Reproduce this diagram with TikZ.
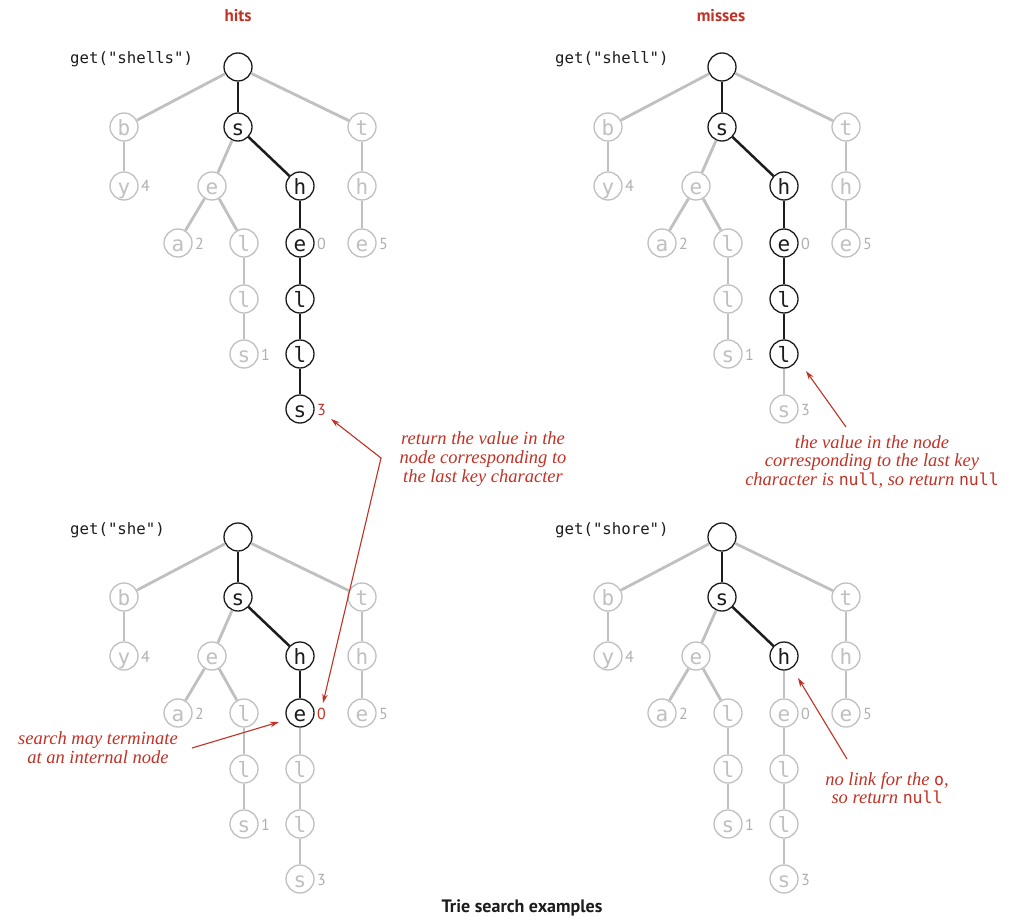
\documentclass[tikz,border=0pt]{standalone}
\usepackage{fontspec}
\setsansfont{PT Sans}
\newfontfamily\monof{DejaVu Sans Mono}
\newfontfamily\annof{Liberation Serif}
\usetikzlibrary{arrows.meta}
\definecolor{tred}{RGB}{192,50,38}
\definecolor{lgray}{RGB}{192,192,192}
\definecolor{tgray}{RGB}{175,175,175}
\definecolor{dk}{RGB}{28,28,28}
\tikzset{
  tn/.style={circle,minimum size=28pt,inner sep=0pt,line width=1.3pt,fill=white,
    font=\monof\fontsize{21}{21}\selectfont,text height=16.5pt,text depth=0pt},
  blk/.style={tn,draw=dk,text=dk},
  gry/.style={tn,draw=lgray,text=lgray},
  eB/.style={draw=dk,line width=2.5pt},
  eG/.style={draw=lgray,line width=2.8pt},
  val/.style={anchor=base west,inner sep=0pt,font=\sffamily\fontsize{16}{16}\selectfont,text=tgray},
  rval/.style={val,text=tred},
  getlbl/.style={anchor=base west,inner sep=0pt,font=\monof\fontsize{15.7}{16}\selectfont,text=dk},
  ttl/.style={anchor=base,inner sep=0pt,font=\sffamily\bfseries\fontsize{17}{17}\selectfont,text=tred},
  anno/.style={align=center,inner sep=0pt,text=tred,font=\annof\itshape\fontsize{18.5}{18.8}\selectfont},
  rarrow/.style={draw=tred,line width=1.1pt,-{Stealth[length=9pt,width=5.5pt]}},
}
\newcommand\nl{{\monof\upshape\fontsize{16.5}{16}\selectfont null}}
\newcommand\trie[3]{%
\begin{scope}[shift={(#2,#3)}]
\node[blk] (#1r) at (238,67) {};
\node[gry] (#1b) at (124,127) {b};
\node[pS] (#1s) at (238,127) {s};
\node[gry] (#1t) at (362,127) {t};
\node[gry] (#1y) at (124,186) {y};
\node[gry] (#1se) at (212,186) {e};
\node[pH] (#1h) at (300,186) {h};
\node[gry] (#1th) at (362,186) {h};
\node[gry] (#1a) at (178,243) {a};
\node[gry] (#1sl) at (244,243) {l};
\node[pE] (#1e) at (300,243) {e};
\node[gry] (#1te) at (362,243) {e};
\node[gry] (#1sll) at (244,299) {l};
\node[pL] (#1l) at (300,299) {l};
\node[gry] (#1sls) at (244,354) {s};
\node[pLL] (#1ll) at (300,354) {l};
\node[pSS] (#1ss) at (300,409) {s};
\node[val] (#1v4) at (141,192) {4};
\node[val] (#1v2) at (195,249) {2};
\node[val] (#1v1) at (261,360) {1};
\node[vE] (#1v0) at (317,249) {0};
\node[val] (#1v5) at (379,249) {5};
\node[vS] (#1v3) at (317,415) {3};
\draw[eB] (#1r) -- (#1s);
\draw[eG] (#1r) -- (#1b);
\draw[eG] (#1r) -- (#1t);
\draw[eG] (#1b) -- (#1y);
\draw[eG] (#1t) -- (#1th);
\draw[eG] (#1th) -- (#1te);
\draw[eG] (#1s) -- (#1se);
\draw[eG] (#1se) -- (#1a);
\draw[eG] (#1se) -- (#1sl);
\draw[eG] (#1sl) -- (#1sll);
\draw[eG] (#1sll) -- (#1sls);
\draw[eB] (#1s) -- (#1h);
\draw[qE] (#1h) -- (#1e);
\draw[qL] (#1e) -- (#1l);
\draw[qLL] (#1l) -- (#1ll);
\draw[qSS] (#1ll) -- (#1ss);
\end{scope}}
\begin{document}
\begin{tikzpicture}[x=1pt,y=-1pt]
\useasboundingbox[fill=white] (0,0) rectangle (1016,917);
% titles
\node[ttl] (thits) at (238,22) {hits};
\node[ttl] (tmiss) at (721,22) {misses};
\node[getlbl] (g1) at (70,64) {get("shells")};
\node[getlbl] (g2) at (555,64) {get("shell")};
\node[getlbl] (g3) at (70,534) {get("she")};
\node[getlbl] (g4) at (555,534) {get("shore")};
% top-left: shells
\tikzset{pS/.style=blk,pH/.style=blk,pE/.style=blk,pL/.style=blk,pLL/.style=blk,pSS/.style=blk,
  qE/.style=eB,qL/.style=eB,qLL/.style=eB,qSS/.style=eB,vE/.style=val,vS/.style=rval}
\trie{A}{0}{0}
% top-right: shell
\tikzset{pS/.style=blk,pH/.style=blk,pE/.style=blk,pL/.style=blk,pLL/.style=blk,pSS/.style=gry,
  qE/.style=eB,qL/.style=eB,qLL/.style=eB,qSS/.style=eG,vE/.style=val,vS/.style=val}
\trie{B}{484}{0}
% bottom-left: she
\tikzset{pS/.style=blk,pH/.style=blk,pE/.style=blk,pL/.style=gry,pLL/.style=gry,pSS/.style=gry,
  qE/.style=eB,qL/.style=eG,qLL/.style=eG,qSS/.style=eG,vE/.style=rval,vS/.style=val}
\trie{C}{0}{470}
% bottom-right: shore
\tikzset{pS/.style=blk,pH/.style=blk,pE/.style=gry,pL/.style=gry,pLL/.style=gry,pSS/.style=gry,
  qE/.style=eG,qL/.style=eG,qLL/.style=eG,qSS/.style=eG,vE/.style=val,vS/.style=val}
\trie{D}{484}{470}
% annotations
\node[anno] (n1) at (483,459) {return the value in the\\node corresponding to\\the last key character};
\node[anno] (n2) at (872,462) {the value in the node\\corresponding to the last key\\character is \nl, so return \nl};
\node[anno] (n3) at (98,748) {search may terminate\\at an internal node};
\node[anno] (n4) at (887,788) {no link for the {\monof\upshape\fontsize{16.5}{16}\selectfont o},\\so return \nl};
\coordinate (bend) at (381,458);
\coordinate (tipA) at (331,419);
\coordinate (tipC) at (323,703);
\draw[draw=tred,line width=1.1pt,{Stealth[length=9pt,width=5.5pt]}-{Stealth[length=9pt,width=5.5pt]}] (tipA) -- (bend) -- (tipC);
\coordinate (s3) at (192,748);
\coordinate (t3) at (279,722);
\draw[rarrow] (s3) -- (t3);
\coordinate (s2) at (846,427);
\coordinate (t2) at (806,371);
\draw[rarrow] (s2) -- (t2);
\coordinate (s4) at (847,759);
\coordinate (t4) at (798,678);
\draw[rarrow] (s4) -- (t4);
\node[anchor=base,inner sep=0pt,font=\sffamily\bfseries\fontsize{18}{18}\selectfont,text=dk] (cap) at (522,912) {Trie search examples};
\end{tikzpicture}
\end{document}
